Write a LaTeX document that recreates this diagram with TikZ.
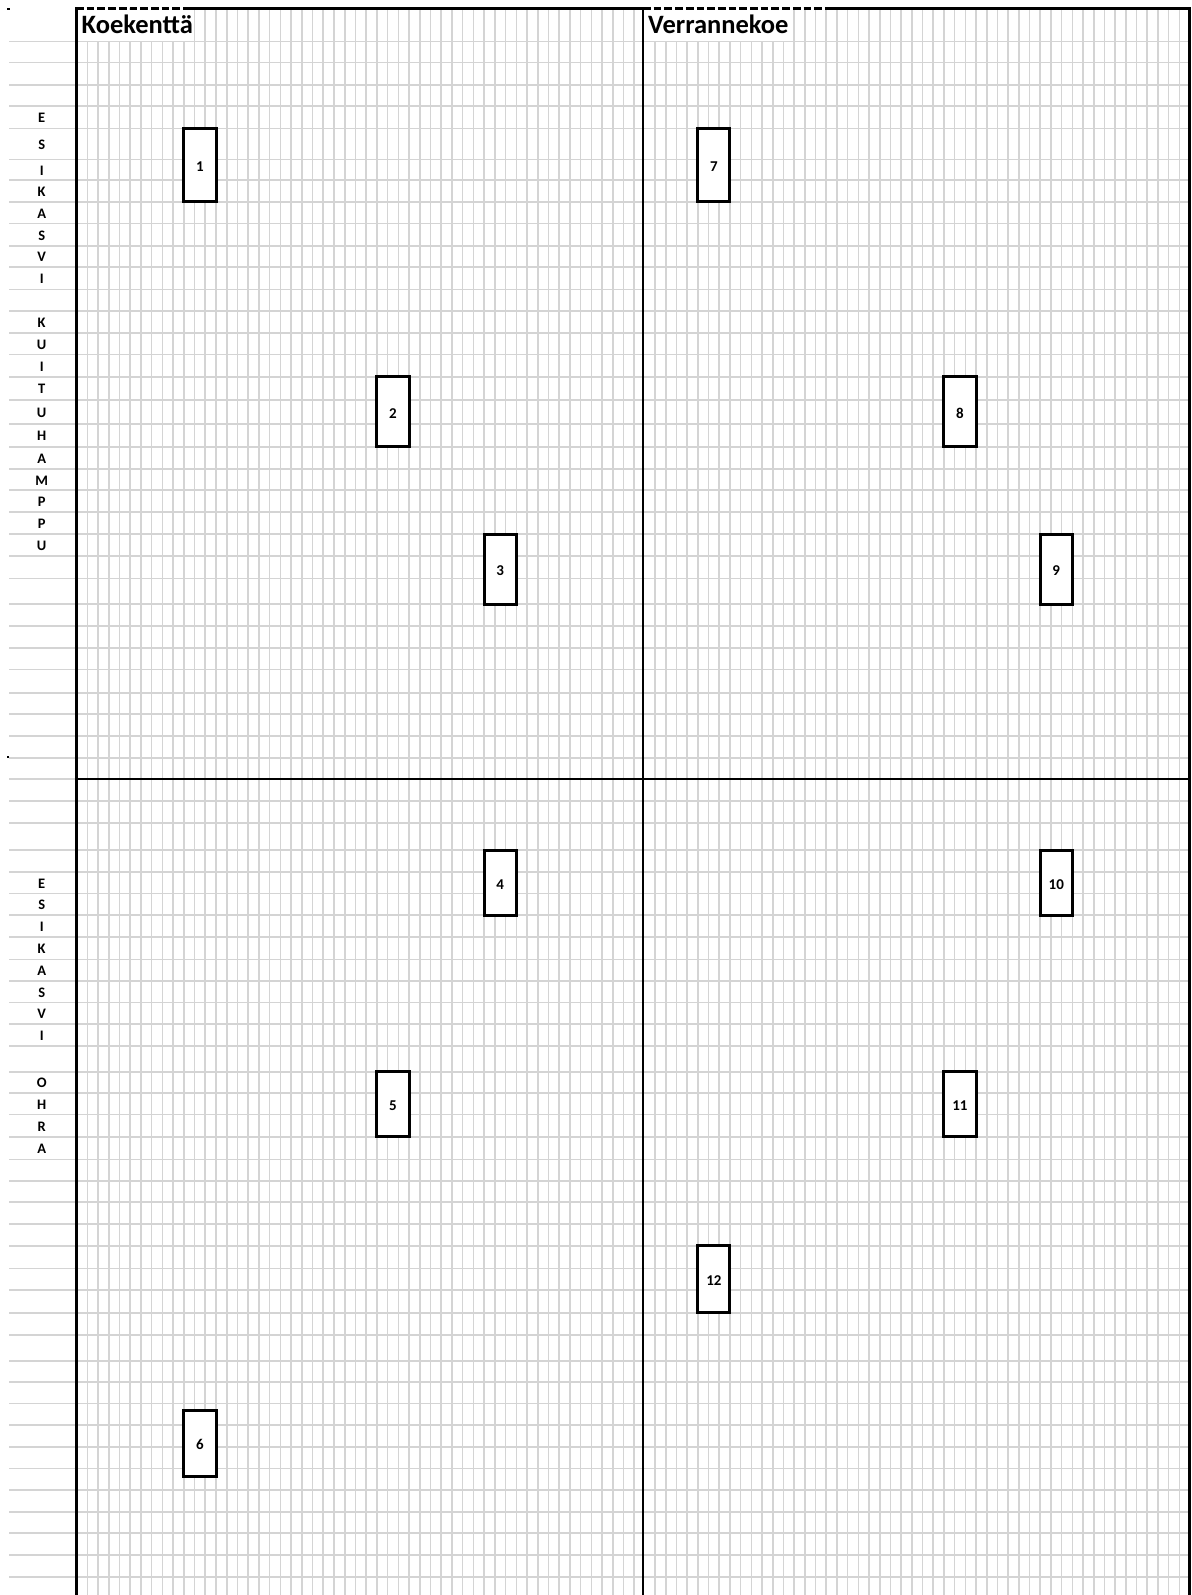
\documentclass[tikz,border=0pt]{standalone}
\usepackage{fontspec}
\setmainfont{Carlito}
\definecolor{gridgray}{RGB}{212,212,212}
\tikzset{
  gridline/.style={draw=gridgray, line width=1.6pt},
  frameline/.style={draw=black, line width=2.7pt},
  plotbox/.style={draw=black, fill=white, line width=3pt, minimum width=32.2pt, inner sep=0pt},
  num/.style={font=\bfseries\fontsize{15}{15}\selectfont, anchor=base, inner sep=0pt},
  lbl/.style={font=\bfseries\fontsize{14.5}{14.5}\selectfont, anchor=base, inner sep=0pt},
  ttl/.style={font=\bfseries\fontsize{26.5}{26.5}\selectfont, anchor=base west, inner sep=0pt},
}
\begin{document}
\begin{tikzpicture}[x=1pt,y=-1pt]
\useasboundingbox (0,0) rectangle (1191,1595);
\fill[white] (0,0) rectangle (1191,1595);
% horizontal grid lines
\foreach \y in {41.7,62.7,85,106,128.3,159.3,180,201.7,223.3,246,266.7,289.3,311,332.7,354.3,376.7,400,424,446.7,469,490,511.7,534,556,578.3,604,626,647.7,669.3,692.7,714,736,757.7,779,801,822.7,850,871.7,893.3,915,936.7,959.3,981,1002.3,1024,1046,1071.7,1092.7,1114.3,1136.7,1159.3,1181,1201.7,1224,1245.7,1268.3,1290,1312.7,1335,1361,1381.7,1403.3,1425,1446.7,1468.3,1490,1511.7,1532.7,1555,1576.7}
  \draw[gridline] (9,\y) -- (1189,\y);
% vertical grid lines
\foreach \k in {0,...,51} \draw[gridline] ({87.3+\k*10.725},8) -- ({87.3+\k*10.725},1595);
\foreach \k in {0,...,49} \draw[gridline] ({655+\k*10.7},8) -- ({655+\k*10.7},1595);
% title cells
\fill[white] (77.5,10) rectangle (193.6,40.8);
\fill[white] (644.2,10) rectangle (793.2,40.8);
\node[ttl] (t1) at (81.5,33.3) {Koekenttä};
\node[ttl] (t2) at (648,33.3) {Verrannekoe};
% frame
\draw[frameline, dash pattern=on 7.7pt off 3pt] (76,8.7) -- (187,8.7);
\draw[frameline] (187,8.7) -- (643,8.7);
\draw[frameline, dash pattern=on 7.7pt off 3pt] (643,8.7) -- (830,8.7);
\draw[frameline] (830,8.7) -- (1189.5,8.7);
\draw[frameline, line width=3pt] (76,7.5) -- (76,1595);
\draw[frameline, line width=2.5pt] (642.8,7.5) -- (642.8,1595);
\draw[frameline, line width=3pt] (1189.5,7.5) -- (1189.5,1595);
\draw[frameline, line width=2.5pt] (76,779) -- (1189.5,779);
\fill[black] (7,8) rectangle (10,10);
\fill[black] (7,756) rectangle (9,758);
% plots
\node[plotbox, minimum height=73.4pt] (p1) at (199.9,165) {};
\node[plotbox, minimum height=70pt] (p2) at (393,411.7) {};
\node[plotbox, minimum height=70pt] (p3) at (500.2,569) {};
\node[plotbox, minimum height=65pt] (p4) at (500.2,882.5) {};
\node[plotbox, minimum height=65pt] (p5) at (393,1104.2) {};
\node[plotbox, minimum height=66pt] (p6) at (199.9,1443) {};
\node[plotbox, minimum height=73.4pt] (p7) at (713.85,165) {};
\node[plotbox, minimum height=70pt] (p8) at (959.95,411.7) {};
\node[plotbox, minimum height=70pt] (p9) at (1056.25,569) {};
\node[plotbox, minimum height=65pt] (p10) at (1056.25,882.5) {};
\node[plotbox, minimum height=65pt] (p11) at (959.95,1104.2) {};
\node[plotbox, minimum height=67pt] (p12) at (713.85,1279.2) {};
\foreach \i in {1,...,12}
  \node[num] (n\i) at ([yshift=-6.5pt]p\i.center) {\i};
% side labels
\foreach \t/\a/\b [count=\i] in {E/106/128.3,S/128.3/159.3,I/159.3/180,K/180/201.7,A/201.7/223.3,S/223.3/246,V/246/266.7,I/266.7/289.3,K/311/332.7,U/332.7/354.3,I/354.3/376.7,T/376.7/400,U/400/424,H/424/446.7,A/446.7/469,M/469/490,P/490/511.7,P/511.7/534,U/534/556,E/871.7/893.3,S/893.3/915,I/915/936.7,K/936.7/959.3,A/959.3/981,S/981/1002.3,V/1002.3/1024,I/1024/1046,O/1071.7/1092.7,H/1092.7/1114.3,R/1114.3/1136.7,A/1136.7/1159.3}
  \node[lbl] (l\i) at (41.7,{(\a+\b)/2+5.5}) {\t};
\end{tikzpicture}
\end{document}
